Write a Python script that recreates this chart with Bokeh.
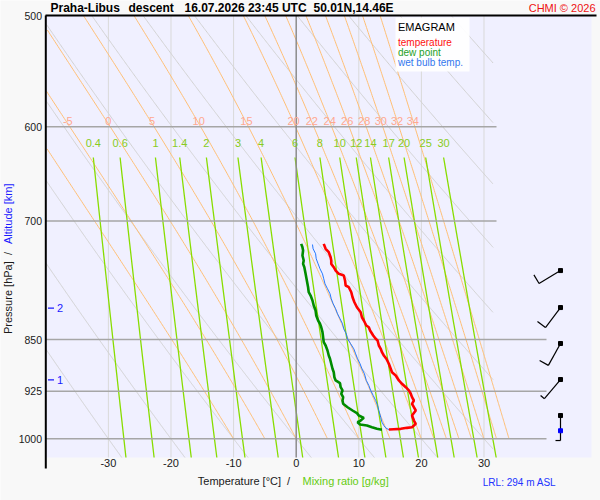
import numpy as np
from bokeh.plotting import figure
from bokeh.models import Range1d
from bokeh.core.properties import value
from bokeh.embed import file_html
from bokeh.resources import INLINE

# ---------------- data ----------------
title_parts = ["Praha-Libus", "descent", "16.07.2026 23:45 UTC", "50.01N,14.46E"]
copyright_text = "CHMI \u00a9 2026"
lrl_text = "LRL: 294 m ASL"

p_ticks = [500, 600, 700, 850, 925, 1000]
p_tick_labels = ["500", "600", "700", "850", "925", "1000"]
t_ticks = [-30, -20, -10, 0, 10, 20, 30]
t_tick_labels = ["-30", "-20", "-10", "0", "10", "20", "30"]

dry_theta = [-30, -20, -10, 0, 10, 20, 30, 40, 50, 60, 70, 80, 90]
moist_thw = [-10, -5, 0, 5, 10, 15, 20, 22, 24, 26, 28, 30, 32, 34]
moist_label_thw = [-5, 0, 5, 10, 15, 20, 22, 24, 26, 28, 30, 32, 34]
mix_ratios = [0.4, 0.6, 1, 1.4, 2, 3, 4, 6, 8, 10, 12, 14, 17, 20, 25, 30]
mix_labels = ["0.4", "0.6", "1", "1.4", "2", "3", "4", "6", "8", "10",
              "12", "14", "17", "20", "25", "30"]

temp_p = [726.7, 732.6, 736.7, 742.8, 746.8, 750.9, 755.0, 759.2, 763.3, 765.3,
          771.6, 778.0, 780.2, 786.6, 793.1, 799.6, 806.2, 812.8, 819.5, 823.9,
          830.7, 833.0, 837.5, 844.4, 849.0, 851.3, 858.3, 863.0, 867.8, 872.5,
          877.2, 884.4, 891.7, 896.7, 901.5, 908.9, 913.9, 919.0, 923.9, 928.9,
          934.1, 939.2, 944.3, 949.6, 954.7, 962.6, 970.5, 975.8, 981.2, 982.2,
          983.8, 984.5, 985.0]
temp_t = [4.4, 4.7, 5.2, 5.5, 5.6, 5.6, 6.0, 6.3, 6.8, 7.6,
          7.8, 7.9, 8.4, 8.8, 9.0, 9.3, 9.7, 10.3, 10.5, 10.8,
          11.2, 11.6, 11.8, 12.3, 12.7, 13.0, 13.2, 13.5, 13.7, 14.0,
          14.4, 14.8, 15.1, 15.3, 15.9, 16.4, 16.9, 17.5, 18.0, 18.3,
          18.5, 18.8, 18.5, 18.8, 19.1, 18.5, 18.8, 19.1, 18.5, 17.7,
          16.7, 15.6, 14.8]

dew_p = [726.7, 730.7, 734.7, 740.7, 746.8, 750.9, 755.0, 763.3, 771.6, 780.2,
         786.6, 790.9, 797.4, 803.9, 810.5, 817.2, 823.9, 828.3, 833.0, 839.8,
         846.7, 853.7, 858.3, 865.4, 872.5, 877.2, 884.4, 891.7, 896.7, 904.1,
         908.9, 913.0, 919.0, 923.9, 928.9, 934.1, 939.2, 944.3, 949.6, 954.7,
         958.9, 962.6, 966.3, 970.5, 973.2, 976.9, 978.5, 981.2, 983.8, 985.4]
dew_t = [0.8, 1.0, 1.1, 1.0, 1.2, 1.1, 1.3, 1.5, 1.7, 1.9,
         2.0, 2.3, 2.6, 2.8, 3.1, 3.2, 3.5, 3.8, 4.0, 4.2,
         4.3, 4.4, 4.7, 5.0, 5.2, 5.4, 5.6, 5.8, 6.0, 6.1,
         6.3, 7.0, 7.1, 7.4, 7.2, 7.5, 7.4, 7.5, 8.2, 9.0,
         9.7, 10.0, 10.8, 10.3, 9.8, 10.2, 11.3, 12.1, 12.9, 13.7]

wb_p = [727.5, 732.6, 738.6, 744.7, 750.9, 757.0, 763.3, 769.5, 775.9, 782.2,
        788.6, 795.1, 801.6, 808.2, 814.9, 821.6, 828.3, 835.2, 842.0, 849.0,
        855.9, 863.0, 870.1, 877.2, 884.4, 891.7, 899.0, 908.9, 916.4, 923.9,
        931.5, 939.2, 946.9, 954.7, 965.3, 973.2, 978.5, 982.2, 985.4]
wb_t = [2.6, 2.7, 3.1, 3.2, 3.5, 3.8, 4.2, 4.4, 4.6, 5.0,
        5.4, 5.6, 5.9, 6.3, 6.6, 7.0, 7.4, 7.6, 8.0, 8.2,
        8.7, 9.2, 9.5, 9.8, 10.2, 10.5, 10.9, 11.2, 11.6, 11.9,
        12.3, 12.7, 13.0, 13.2, 13.5, 13.7, 14.0, 14.3, 14.8]

alt_km = ["1", "2"]
alt_p = [908.1, 807.4]

wind_p = [759.2, 806.6, 855.5, 907.5, 962.6]
wind_dir = [239, 217, 209, 220, 180]
wind_kt = [10, 10, 10, 5, 5]
surface_p = 986.9

# ---------------- geometry (page pixels) ----------------
PX_C = 6.26        # px per degC
X0 = 295.7         # page x of 0 degC
PX_LN = 610.7      # px per unit ln(p)
Y500 = 15.0        # page y of 500 hPa
MARGIN = 0
W, H = 600, 500


def tx(px):
    return (px - X0) / PX_C


def py(y):
    return 500.0 * np.exp((y - Y500) / PX_LN)


def to_px(t, pr):
    return X0 + t * PX_C, Y500 + PX_LN * np.log(pr / 500.0)


FONT = value("Liberation Sans")
T_MIN = -40.0
T_FRAME_R = tx(591)
P_TOP = 500.0
P_BOT = py(457)
T_CLIP_UPPER = tx(496)
T_CLIP_LOWER = tx(546)

fig = figure(width=W, height=H,
             x_range=Range1d(tx(MARGIN), tx(MARGIN + W)),
             y_range=Range1d(py(MARGIN + H), py(MARGIN)),
             y_axis_type="log", x_axis_location=None, y_axis_location=None,
             toolbar_location=None, output_backend="svg", min_border=0,
             outline_line_color=None, background_fill_color="#f8f8f8",
             border_fill_color="#f8f8f8")
fig.grid.visible = False

# diagram background
fig.quad(left=[T_MIN], right=[T_FRAME_R], bottom=[P_BOT], top=[P_TOP],
         fill_color="#f0f0ff", line_color=None)

# isotherms
iso_t = [t for t in t_ticks if t != 0]
fig.multi_line(xs=[[t, t] for t in iso_t], ys=[[P_TOP, P_BOT] for _ in iso_t],
               line_color="#d9d9d9", line_width=1)

# dry adiabats
pp = np.linspace(P_TOP, P_BOT, 500)
dxs, dys = [], []
for th in dry_theta:
    tt = (th + 273.15) * (pp / 1000.0) ** 0.2857 - 273.15
    m = (tt >= T_MIN) & (tt <= 31.5)
    if m.sum() > 1:
        dxs.append(list(tt[m]))
        dys.append(list(pp[m]))
fig.multi_line(xs=dxs, ys=dys, line_color="#d2d2d2", line_width=1)

# moist (pseudo) adiabats
RD, CP, LV, EPS = 287.04, 1005.7, 2.501e6, 0.622


def es_hpa(tc):
    return 6.112 * np.exp(17.67 * tc / (tc + 243.5))


def dtdp(pr, tk):
    e = es_hpa(tk - 273.15)
    rs = EPS * e / (pr - e)
    return (RD * tk + LV * rs) / (CP + LV * LV * rs * EPS / (RD * tk * tk)) / pr


def moist_curve(thw):
    pr = np.arange(1000.0, 499.0, -2.0)
    tk = np.empty_like(pr)
    tk[0] = thw + 273.15
    for i in range(1, len(pr)):
        h = pr[i] - pr[i - 1]
        p0, t0 = pr[i - 1], tk[i - 1]
        k1 = dtdp(p0, t0)
        k2 = dtdp(p0 + h / 2, t0 + h / 2 * k1)
        k3 = dtdp(p0 + h / 2, t0 + h / 2 * k2)
        k4 = dtdp(p0 + h, t0 + h * k3)
        tk[i] = t0 + h * (k1 + 2 * k2 + 2 * k3 + k4) / 6
    return pr, tk - 273.15


mxs, mys, t600 = [], [], {}
for thw in moist_thw:
    pr, tc = moist_curve(thw)
    t600[thw] = float(np.interp(600.0, pr[::-1], tc[::-1]))
    m = tc >= T_MIN
    mxs.append(list(tc[m]))
    mys.append(list(pr[m]))
fig.multi_line(xs=mxs, ys=mys, line_color="#ffbf75", line_width=1)

# mixing ratio lines
P_MIX_TOP = py(157)
pm = np.linspace(P_MIX_TOP, P_BOT, 120)
wxs, wys, wtop = [], [], []
for w in mix_ratios:
    e = w * pm / (622.0 + w)
    a = np.log(e / 6.112)
    td = 243.5 * a / (17.67 - a)
    wxs.append(list(td))
    wys.append(list(pm))
    wtop.append(float(td[0]))
fig.multi_line(xs=wxs, ys=wys, line_color="#88dd00", line_width=1.3)

# isobars
fig.multi_line(xs=[[T_MIN, T_CLIP_UPPER if pv < 800 else T_CLIP_LOWER]
                   for pv in p_ticks[1:]],
               ys=[[pv, pv] for pv in p_ticks[1:]],
               line_color="#a6a6a6", line_width=1.5)
# zero isotherm
fig.line([0, 0], [P_TOP, P_BOT], line_color="#8c8c8c", line_width=1.5)

# frame lines (top and left)
fig.line([tx(45), tx(596)], [P_TOP, P_TOP], line_color="black", line_width=2)
fig.line([T_MIN, T_MIN], [P_TOP, py(468)], line_color="black", line_width=2)

# labels of moist adiabats and mixing ratio lines
LABEL_SHIFT = -2.0 / PX_C
fig.text(x=[t600[t] + LABEL_SHIFT for t in moist_label_thw],
         y=[py(120.5)] * len(moist_label_thw),
         text=[str(t) for t in moist_label_thw], text_font=FONT,
         text_font_size="11px", text_color="#ffa890", text_align="center",
         text_baseline="middle")
fig.text(x=wtop, y=[py(142.7)] * len(wtop), text=mix_labels, text_font=FONT,
         text_font_size="11px", text_color="#88cc22", text_align="center",
         text_baseline="middle")

# profiles
fig.line(wb_t, wb_p, line_color="#2277ff", line_width=1)
fig.line(dew_t, dew_p, line_color="#008c00", line_width=2.6)
fig.line(temp_t, temp_p, line_color="#ff0000", line_width=2.6)

# altitude markers
fig.multi_line(xs=[[tx(47.5), tx(53.5)] for _ in alt_p], ys=[[a, a] for a in alt_p],
               line_color="#1a1aff", line_width=1.3)
fig.text(x=[tx(59.5)] * len(alt_p), y=alt_p, text=alt_km, text_font=FONT,
         text_font_size="11px", text_color="#1a1aff", text_align="center",
         text_baseline="middle")

# wind barbs
STATION_PX = 560.0
STAFF, FULL, HALF, GAP = 25.0, 10.0, 5.0, 4.0
bx0, by0, bx1, by1 = [], [], [], []


def seg(xa, ya, xb, yb):
    bx0.append(tx(xa)); by0.append(py(ya))
    bx1.append(tx(xb)); by1.append(py(yb))


for pw, d, spd in zip(wind_p, wind_dir, wind_kt):
    _, sy = to_px(0.0, pw)
    sx = STATION_PX
    r = np.radians(d)
    ux, uy = np.sin(r), -np.cos(r)
    vx, vy = -uy, ux
    ex, ey = sx + STAFF * ux, sy + STAFF * uy
    seg(sx, sy, ex, ey)
    pos = 0.0
    for _ in range(spd // 10):
        ax, ay = ex - pos * ux, ey - pos * uy
        seg(ax, ay, ax + FULL * vx, ay + FULL * vy)
        pos += GAP
    if spd % 10 >= 5:
        ax, ay = ex - pos * ux, ey - pos * uy
        seg(ax, ay, ax + HALF * vx, ay + HALF * vy)
fig.segment(x0=bx0, y0=by0, x1=bx1, y1=by1, line_color="black", line_width=1.2)
fig.scatter(x=[tx(STATION_PX)] * len(wind_p), y=wind_p, marker="square", size=4,
            fill_color="black", line_color="black")
fig.scatter(x=[tx(STATION_PX)], y=[surface_p], marker="square", size=4,
            fill_color="#0000ff", line_color="#0000ff")

# legend box
fig.quad(left=[tx(395)], right=[tx(469)], top=[py(17)], bottom=[py(71)],
         fill_color="white", fill_alpha=0.92, line_color=None)
fig.text(x=[tx(397.5)], y=[py(26)], text=["EMAGRAM"], text_font=FONT,
         text_font_size="11px", text_color="black", text_baseline="middle")
fig.text(x=[tx(397.5)] * 3, y=[py(42), py(51.7), py(61.5)],
         text=["temperature", "dew point", "wet bulb temp."], text_font=FONT,
         text_font_size="10px", text_color=["#ff1010", "#1fa01f", "#3377ee"],
         text_baseline="middle")

# axes tick labels
fig.text(x=[tx(41.5)] * len(p_ticks), y=p_ticks, text=p_tick_labels, text_font=FONT,
         text_font_size="10.5px", text_color="#1a1a1a", text_align="right",
         text_baseline="middle")
fig.text(x=t_ticks, y=[py(462.5)] * len(t_ticks), text=t_tick_labels, text_font=FONT,
         text_font_size="11px", text_color="#1a1a1a", text_align="center",
         text_baseline="middle")

# axis titles
fig.text(x=[tx(197.3), tx(288)], y=[py(480.5)] * 2,
         text=["Temperature [\u00b0C]", "/"], text_font=FONT, text_font_size="11px",
         text_color="#1a1a1a", text_align=["left", "center"], text_baseline="middle")
fig.text(x=[tx(302)], y=[py(480.5)], text=["Mixing ratio [g/kg]"], text_font=FONT,
         text_font_size="11px", text_color="#66cc11", text_baseline="middle")
fig.text(x=[tx(7.5)] * 2, y=[py(333.5), py(253)],
         text=["Pressure [hPa]", "/"], text_font=FONT, text_font_size="11px",
         text_color="#1a1a1a", text_align=["left", "center"],
         text_baseline="middle", angle=np.pi / 2)
fig.text(x=[tx(7.5)], y=[py(243.5)], text=["Altitude [km]"], text_font=FONT,
         text_font_size="11px", text_color="#1a1aff", text_baseline="middle",
         angle=np.pi / 2)
fig.text(x=[tx(482.3)], y=[py(481.5)], text=[lrl_text], text_font=FONT,
         text_font_size="10px", text_color="#2233ff", text_baseline="middle")

# title
fig.text(x=[tx(50), tx(128), tx(184), tx(313)], y=[py(7.8)] * 4, text=title_parts,
         text_font=FONT, text_font_size="12px", text_font_style="bold",
         text_color="black", text_baseline="middle")
fig.text(x=[tx(595)], y=[py(7.8)], text=[copyright_text], text_font=FONT,
         text_font_size="11px", text_color="#ee1111", text_align="right",
         text_baseline="middle")

open("out.html", "w").write(file_html(fig, INLINE))
